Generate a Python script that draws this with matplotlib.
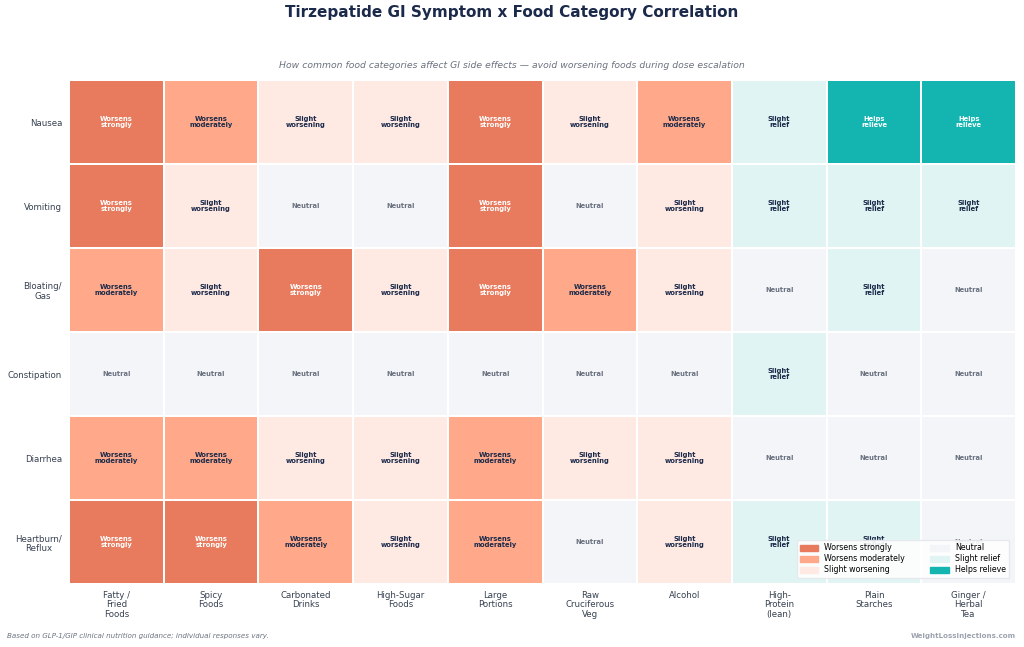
import numpy as np
import matplotlib.pyplot as plt
from matplotlib.colors import ListedColormap, BoundaryNorm
from matplotlib.patches import Patch

symptoms = ['Nausea', 'Vomiting', 'Bloating/\nGas', 'Constipation', 'Diarrhea', 'Heartburn/\nReflux']
foods = ['Fatty /\nFried\nFoods', 'Spicy\nFoods', 'Carbonated\nDrinks', 'High-Sugar\nFoods', 'Large\nPortions',
         'Raw\nCruciferous\nVeg', 'Alcohol', 'High-\nProtein\n(lean)', 'Plain\nStarches', 'Ginger /\nHerbal\nTea']

# 3 = worsens strongly ... 0 = neutral ... -2 = helps relieve
nausea = [3, 2, 1, 1, 3, 1, 2, -1, -2, -2]
vomiting = [3, 1, 0, 0, 3, 0, 1, -1, -1, -1]
bloating = [2, 1, 3, 1, 3, 2, 1, 0, -1, 0]
constipation = [0, 0, 0, 0, 0, 0, 0, -1, 0, 0]
diarrhea = [2, 2, 1, 1, 2, 1, 1, 0, 0, 0]
heartburn = [3, 3, 2, 1, 2, 0, 1, -1, -1, 0]

levels = [-2, -1, 0, 1, 2, 3]
level_labels = {3: 'Worsens\nstrongly', 2: 'Worsens\nmoderately', 1: 'Slight\nworsening',
                0: 'Neutral', -1: 'Slight\nrelief', -2: 'Helps\nrelieve'}
level_colors = {3: '#E87B5E', 2: '#FFA98A', 1: '#FFE9E3', 0: '#F4F5F9', -1: '#E0F5F3', -2: '#14B5B1'}
text_colors = {3: 'white', 2: '#1B2A4A', 1: '#1B2A4A', 0: '#6B7280', -1: '#1B2A4A', -2: 'white'}

data = np.array([nausea, vomiting, bloating, constipation, diarrhea, heartburn])

fig = plt.figure(figsize=(10.24, 6.47), dpi=100)
ax = fig.add_axes([69 / 1024, 1 - 584 / 647, (1016 - 69) / 1024, (584 - 80) / 647])

cmap = ListedColormap([level_colors[l] for l in levels])
norm = BoundaryNorm(np.arange(-2.5, 4, 1), cmap.N)
ax.pcolormesh(data, cmap=cmap, norm=norm, edgecolors='white', linewidth=1.1)
ax.set_xlim(0, len(foods))
ax.set_ylim(len(symptoms), 0)

for i in range(data.shape[0]):
    for j in range(data.shape[1]):
        v = data[i, j]
        ax.text(j + 0.5, i + 0.5, level_labels[v], ha='center', va='center',
                fontsize=4.9, fontweight='bold', color=text_colors[v], linespacing=1.1)

ax.set_xticks(np.arange(len(foods)) + 0.5)
ax.set_xticklabels(foods, fontsize=6.2, color='#374151', va='top', linespacing=1.05)
ax.set_yticks(np.arange(len(symptoms)) + 0.5)
ax.set_yticklabels(symptoms, fontsize=6.2, color='#374151', ha='right', multialignment='center')
ax.tick_params(length=0, pad=5)
for s in ax.spines.values():
    s.set_visible(False)

handles = [Patch(color=level_colors[l], label=level_labels[l].replace('\n', ' ')) for l in [3, 2, 1, 0, -1, -2]]
ax.legend(handles=handles, ncol=2, loc='lower right', fontsize=5.7, frameon=True, framealpha=0.9,
          edgecolor='#e5e7eb', handlelength=2.3, handleheight=0.8, columnspacing=3.2,
          borderpad=0.4, labelspacing=0.25, bbox_to_anchor=(0.997, 0.005))

fig.text(0.5, 1 - 13 / 647, 'Tirzepatide GI Symptom x Food Category Correlation', ha='center', va='center',
         fontsize=11, fontweight='bold', color='#1B2A4A')
fig.text(0.5, 1 - 66 / 647, 'How common food categories affect GI side effects \u2014 avoid worsening foods during dose escalation',
         ha='center', va='center', fontsize=6.7, style='italic', color='#6B7280')
fig.text(7 / 1024, 1 - 636 / 647, 'Based on GLP-1/GIP clinical nutrition guidance; individual responses vary.',
         ha='left', va='center', fontsize=5.15, style='italic', color='#6B7280')
fig.text(1016 / 1024, 1 - 636 / 647, 'WeightLossInjections.com', ha='right', va='center',
         fontsize=5.1, fontweight='bold', color='#9CA3AF')

fig.savefig('out.png', dpi=100)
